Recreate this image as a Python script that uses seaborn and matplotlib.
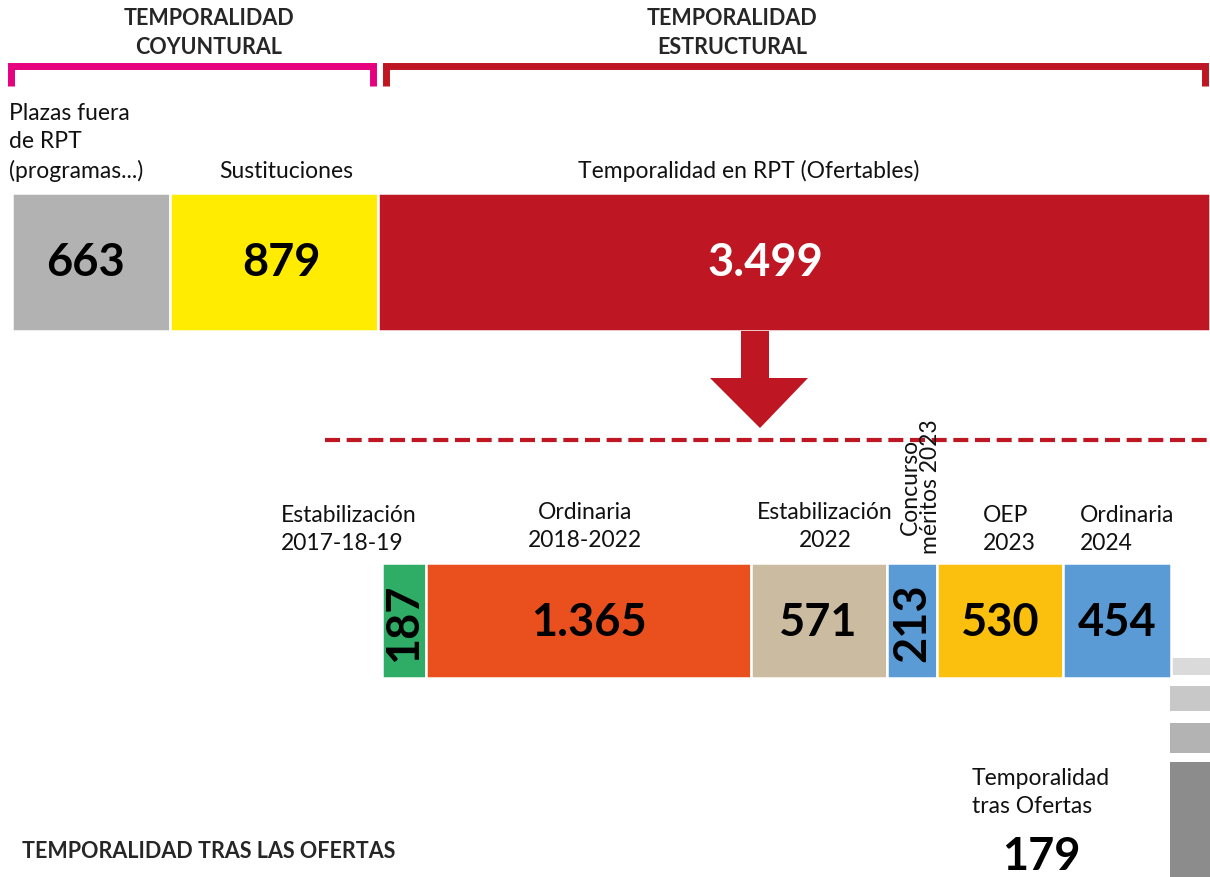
import matplotlib
matplotlib.use("Agg")
import matplotlib.pyplot as plt
import numpy as np
import seaborn as sns

# ---------------- data ----------------
top_labels = ["Plazas fuera\nde RPT\n(programas...)", "Sustituciones", "Temporalidad en RPT (Ofertables)"]
top_values = [663, 879, 3499]
top_text = ["663", "879", "3.499"]

bottom_labels = ["Estabilización\n2017-18-19", "Ordinaria\n2018-2022", "Estabilización\n2022",
                 "Concurso\nméritos 2023", "OEP\n2023", "Ordinaria\n2024"]
bottom_values = [187, 1365, 571, 213, 530, 454]
bottom_text = ["187", "1.365", "571", "213", "530", "454"]

remaining_label = "Temporalidad\ntras Ofertas"
remaining_value = 179
remaining_text = "179"

group_labels = ["TEMPORALIDAD\nCOYUNTURAL", "TEMPORALIDAD\nESTRUCTURAL"]
footer = "TEMPORALIDAD TRAS LAS OFERTAS"

# ---------------- style ----------------
top_colors = ["#b2b2b2", "#ffec00", "#be1622"]
top_txt_colors = ["black", "black", "white"]
bottom_colors = ["#2fac66", "#e9501e", "#cbbba0", "#5b9bd5", "#fbc00d", "#5b9bd5"]
rest_colors = ["#dadada", "#c8c8c8", "#b3b3b3", "#8c8c8c"]

sns.set_theme(style="white")
plt.rcParams["font.family"] = ["Lato", "DejaVu Sans"]

W, H = 1210, 877
fig = plt.figure(figsize=(W / 100, H / 100), dpi=100)
ax = fig.add_axes([0, 0, 1, 1])

total = sum(top_values)
X0, X1 = 12, 1210
scale = (X1 - X0) / total  # px per unit


def px(p):
    """pixel x -> data x"""
    return (p - X0) / scale


ax.set_xlim(px(0), px(W))
ax.set_ylim(H, 0)
ax.axis("off")

LBL = 16.5
NUM = 32.5

# ---------------- top stacked bar ----------------
top_left = np.concatenate([[0], np.cumsum(top_values)[:-1]])
ax.barh([262] * 3, top_values, left=top_left, height=138, color=top_colors,
        edgecolor="white", linewidth=1.8)
num_x = [px(85), px(281), px(765)]
for x, t, c in zip(num_x, top_text, top_txt_colors):
    ax.text(x, 263, t, ha="center", va="center", fontsize=NUM,
            fontweight="bold", color=c)

# top labels
ax.text(px(9), 178, top_labels[0], ha="left", va="baseline", fontsize=LBL,
        linespacing=1.42, color="#111111")
ax.text(px(286), 178, top_labels[1], ha="center", va="baseline",
        fontsize=LBL, color="#111111")
ax.text(px(749), 178, top_labels[2], ha="center", va="baseline",
        fontsize=LBL, color="#111111")

# group brackets
def bracket(xa, xb, color):
    ax.plot([px(xa), px(xa), px(xb), px(xb)], [86, 66, 66, 86], color=color,
            lw=5.0, solid_joinstyle="miter", solid_capstyle="butt")

bracket(11, 373, "#e6007e")
bracket(386, 1205, "#be1622")
ax.text(px(209), 33, group_labels[0], ha="center", va="center", fontsize=15.5,
        fontweight="bold", linespacing=1.5)
ax.text(px(732), 33, group_labels[1], ha="center", va="center", fontsize=15.5,
        fontweight="bold", linespacing=1.5)

# arrow
ax.fill([px(741), px(769), px(769), px(808), px(760), px(710), px(741)],
        [331, 331, 378, 378, 428, 378, 378], color="#be1622", lw=0)

# dashed line
ax.plot([px(325), px(1210)], [440, 440], color="#be1622", lw=3,
        linestyle=(0, (3.6, 1.6)))

# remaining (179) decorative stepped bars
rest_y = [(658, 675), (686, 711), (723, 753), (762, 890)]
rest_left = total - remaining_value
for (ya, yb), c in zip(rest_y, rest_colors):
    ax.barh([(ya + yb) / 2], [remaining_value], left=rest_left + px(14.5) - px(12),
            height=yb - ya, color=c, edgecolor="none", zorder=1)

# ---------------- bottom stacked bar ----------------
b_start = px(382)
b_left = b_start + np.concatenate([[0], np.cumsum(bottom_values)[:-1]])
ax.barh([620] * len(bottom_values), bottom_values, left=b_left, height=115,
        color=bottom_colors, edgecolor="white", linewidth=1.8, zorder=2)
for i, (l, v, t) in enumerate(zip(b_left, bottom_values, bottom_text)):
    rot = 90 if v < 250 else 0
    ax.text(l + v / 2, 623, t, ha="center", va="center",
            fontsize=NUM, fontweight="bold", rotation=rot, color="black", zorder=3)

# bottom labels
lab_kw = dict(fontsize=LBL, linespacing=1.42, color="#111111", va="baseline")
ax.text(px(281), 550, bottom_labels[0], ha="left", **lab_kw)
ax.text(px(585), 547, bottom_labels[1], ha="center", **lab_kw)
ax.text(px(825), 547, bottom_labels[2], ha="center", multialignment="center", **lab_kw)
ax.text(px(920), 554, bottom_labels[3], ha="center", va="bottom", rotation=90,
        fontsize=LBL, linespacing=0.95, color="#111111")
ax.text(px(983), 550, bottom_labels[4], ha="left", **lab_kw)
ax.text(px(1080), 550, bottom_labels[5], ha="left", **lab_kw)

ax.text(px(972), 813, remaining_label, ha="left", va="baseline", fontsize=LBL,
        linespacing=1.42, color="#111111")
ax.text(px(1041), 857, remaining_text, ha="center", va="center", fontsize=NUM,
        fontweight="bold", color="black")

ax.text(px(22), 852, footer, ha="left", va="center", fontsize=15.5, fontweight="bold")

fig.savefig("out.png", dpi=100)
